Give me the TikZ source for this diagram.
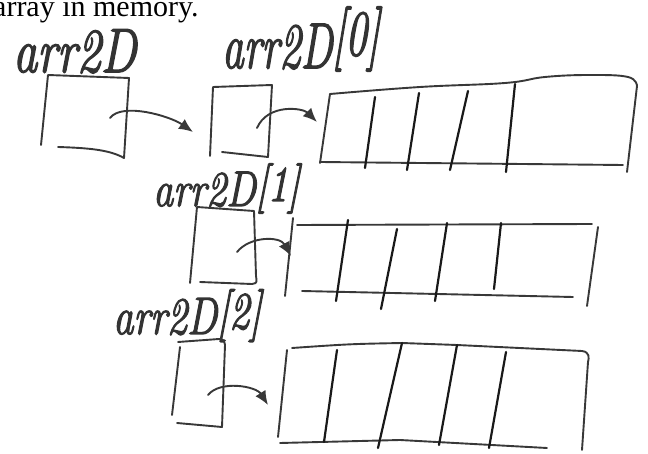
\documentclass[tikz,border=0pt]{standalone}
\usepackage{fontspec}
\newfontfamily\printfont{Liberation Serif}
\newfontfamily\handfont[FakeBold=2.5]{Latin Modern Roman}
\usetikzlibrary{arrows.meta}
\begin{document}
\begin{tikzpicture}[x=1pt,y=-1pt,
  ink/.style={draw=black!78, line width=1.9pt, line cap=round, line join=round},
  wall/.style={draw=black!90, line width=2.2pt, line cap=round},
  ptr/.style={ink, -{Latex[length=14pt,width=12pt]}},
  hand/.style={inner sep=0pt, anchor=base west, text=black!80},
]
\useasboundingbox (0,0) rectangle (648,454);

% printed caption running off the top edge
\node[inner sep=0pt, anchor=base west, font={\printfont\fontsize{30}{30}\selectfont}] (caption) at (-7,17) {array in memory.};

% handwritten names
\node[hand] (lblA) at (13,72) {\scalebox{1}[1.3]{\fontsize{48}{48}\selectfont\handfont\itshape arr2D}};
\node[hand] (lblB) at (222,68) {\scalebox{1}[1.5]{\fontsize{43}{43}\selectfont\handfont\itshape arr2D\raisebox{0.2em}{[0]}}};
\node[hand] (lblC) at (153,206) {\scalebox{1}[1.25]{\fontsize{40}{40}\selectfont\handfont\itshape arr2D\raisebox{0.1em}{[1]}}};
\node[hand] (lblD) at (113,334) {\scalebox{1}[1.3]{\fontsize{40.5}{40.5}\selectfont\handfont\itshape arr2D\raisebox{0.1em}{[2]}}};

% pointer cells
\draw[ink] (58,147) .. controls (90,148) and (110,150) .. (124,158) -- (129,78) -- (48,75) -- (41,145);
\draw[ink] (222,152) -- (268,157) -- (272,85) -- (213,87) -- (210,156);
\draw[ink] (200,282) -- (252,284) .. controls (257,283) .. (256,276) -- (254,211) -- (197,207) -- (190,283);
\draw[ink] (177,423) -- (222,427) -- (225,345) .. controls (224,340) .. (219,339) -- (178,342);
\draw[ink] (180,347) -- (172,415);

% row 0
\draw[ink] (330,94) -- (320,163);
\draw[ink] plot[smooth, tension=0.7] coordinates {(330,94) (420,87) (505,83) (545,77) (590,75) (628,77) (637,86)};
\draw[ink] (637,86) -- (627,172);
\draw[ink] (320,162) -- (623,165);
\draw[wall] (375,97) -- (365,168);
\draw[wall] (419,93) -- (407,170);
\draw[wall] (468,91) -- (450,170);
\draw[wall] (515,84) -- (506,172);

% row 1
\draw[ink] (293,218) -- (285,296);
\draw[ink] (297,225) -- (592,224);
\draw[ink] (598,227) -- (587,306);
\draw[ink] (302,291) -- (573,297);
\draw[wall] (348,220) -- (336,301);
\draw[wall] (397,229) -- (381,309);
\draw[wall] (447,223) -- (435,301);
\draw[wall] (501,223) -- (494,289);

% row 2
\draw[ink] (287,350) -- (278,437);
\draw[ink] (292,348) .. controls (350,344) .. (402,343) -- (457,345) -- (582,351) .. controls (590,352) and (589,358) .. (588,362) -- (582,450);
\draw[ink] (280,443) -- (400,440) -- (547,448);
\draw[wall] (337,350) -- (324,442);
\draw[wall] (402,343) -- (378,448);
\draw[wall] (457,345) -- (439,445);
\draw[wall] (506,352) -- (489,448);

% pointers
\coordinate (srcA) at (110,118);  \coordinate (dstA) at (193,132);
\coordinate (srcB) at (257,128);  \coordinate (dstB) at (317,122);
\coordinate (srcC) at (237,252);  \coordinate (dstC) at (291,256);
\coordinate (srcD) at (208,395);  \coordinate (dstD) at (268,405);
\draw[ptr] (srcA) .. controls (122,102) and (170,116) .. (dstA);
\draw[ptr] (srcB) .. controls (268,103) and (303,108) .. (dstB);
\draw[ptr] (srcC) .. controls (250,236) and (280,236) .. (dstC);
\draw[ptr] (srcD) .. controls (220,380) and (256,386) .. (dstD);
\end{tikzpicture}
\end{document}
